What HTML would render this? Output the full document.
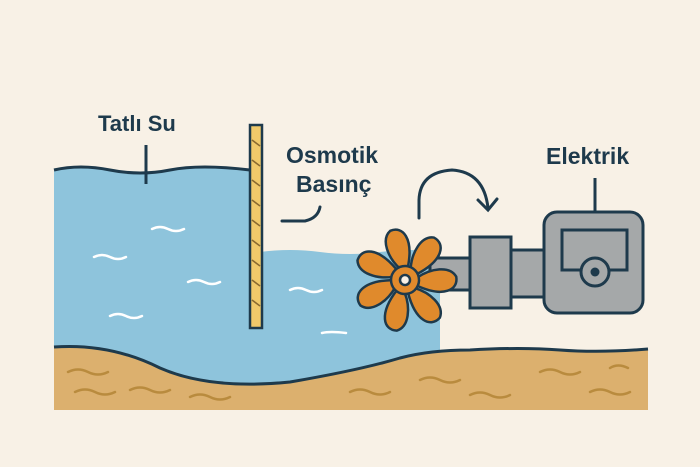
<!DOCTYPE html>
<html><head><meta charset="utf-8"><style>
html,body{margin:0;padding:0;background:#f8f1e6;}
svg{display:block}
text{font-family:"Liberation Sans",sans-serif;font-weight:bold;fill:#1e3a4c}
</style></head><body>
<svg width="700" height="467" viewBox="0 0 700 467">
<rect width="700" height="467" fill="#f8f1e6"/>
<!-- water -->
<path d="M54 170 Q80 164 110 170 T170 170 T250 170 L263 170 L263 400 L54 400 Z" fill="#8ec4dc"/>
<path d="M260 252 Q290 248 320 252 T380 252 T440 252 L440 400 L260 400 Z" fill="#8ec4dc"/>
<path d="M54 170 Q80 164 110 170 T170 170 T250 170" fill="none" stroke="#1e3a4c" stroke-width="3"/>
<!-- ground -->
<path d="M54 347 Q110 343 160 368 Q210 390 290 382 Q360 370 400 358 Q430 350 470 350 Q520 347 560 350 T648 349 L648 410 L54 410 Z" fill="#dcb06e"/>
<path d="M54 347 Q110 343 160 368 Q210 390 290 382 Q360 370 400 358 Q430 350 470 350 Q520 347 560 350 T648 349" fill="none" stroke="#1e3a4c" stroke-width="3"/>
<g fill="none" stroke="#b98b3e" stroke-width="2.5" stroke-linecap="round">
<path d="M68 372 q10 -5 20 0 t20 0"/><path d="M75 392 q10 -5 20 0 t20 0"/><path d="M130 390 q10 -5 20 0 t20 0"/>
<path d="M190 397 q10 -5 20 0 t20 0"/><path d="M350 392 q10 -5 20 0 t20 0"/><path d="M420 380 q10 -5 20 0 t20 0"/>
<path d="M470 395 q10 -5 20 0 t20 0"/><path d="M540 372 q10 -5 20 0 t20 0"/><path d="M590 392 q10 -5 20 0 t20 0"/>
<path d="M610 368 q8 -5 18 0"/>
</g>
<!-- white wave marks -->
<g fill="none" stroke="#fff" stroke-width="2.5" stroke-linecap="round">
<path d="M152 229 q8 -4 16 0 t16 0"/><path d="M94 257 q8 -4 16 0 t16 0"/><path d="M188 282 q8 -4 16 0 t16 0"/>
<path d="M110 316 q8 -4 16 0 t16 0"/><path d="M290 290 q8 -4 16 0 t16 0"/><path d="M322 333 q8 -2 24 0"/>
</g>
<!-- membrane -->
<rect x="250" y="125" width="12" height="203" fill="#f0c96a" stroke="#1e3a4c" stroke-width="2.5"/>
<g stroke="#8a6a30" stroke-width="1.5"><path d="M252 140l8 6M252 160l8 6M252 180l8 6M252 200l8 6M252 220l8 6M252 240l8 6M252 260l8 6M252 280l8 6M252 300l8 6"/></g>
<!-- labels -->
<text x="98" y="131" font-size="22">Tatlı Su</text>
<line x1="146" y1="145" x2="146" y2="184" stroke="#1e3a4c" stroke-width="3"/>
<text x="286" y="163" font-size="23">Osmotik</text>
<text x="296" y="192" font-size="23">Basınç</text>
<path d="M282 221 L305 221 Q318 218 320 207" fill="none" stroke="#1e3a4c" stroke-width="3" stroke-linecap="round"/>
<text x="546" y="164" font-size="23">Elektrik</text>
<line x1="595" y1="178" x2="595" y2="212" stroke="#1e3a4c" stroke-width="3"/>
<!-- arrow arc -->
<path d="M419 218 L419 200 Q420 172 452 170 Q484 172 488 208" fill="none" stroke="#1e3a4c" stroke-width="3" stroke-linecap="round"/>
<path d="M478 200 L488 210 L497 199" fill="none" stroke="#1e3a4c" stroke-width="3" stroke-linecap="round"/>
<!-- shafts / motor -->
<rect x="430" y="258" width="42" height="32" fill="#a5a8a9" stroke="#1e3a4c" stroke-width="3"/>
<rect x="509" y="250" width="38" height="47" fill="#a5a8a9" stroke="#1e3a4c" stroke-width="3"/>
<rect x="470" y="237" width="41" height="71" fill="#a5a8a9" stroke="#1e3a4c" stroke-width="3"/>
<rect x="544" y="212" width="99" height="101" rx="13" fill="#a5a8a9" stroke="#1e3a4c" stroke-width="3"/>
<rect x="562" y="230" width="65" height="40" fill="none" stroke="#1e3a4c" stroke-width="3"/>
<circle cx="595" cy="272" r="14" fill="#a5a8a9" stroke="#1e3a4c" stroke-width="3"/>
<circle cx="595" cy="272" r="4.5" fill="#1e3a4c"/>
<!-- propeller -->
<g transform="translate(405,280) rotate(-10)" fill="#e08a2c" stroke="#1e3a4c" stroke-width="2.5" stroke-linejoin="round">
<g id="b"><path d="M-3 -12 C-13 -25 -17 -44 -6 -51 C7 -54 16 -40 5 -12 Z"/></g>
<use href="#b" transform="rotate(51)"/><use href="#b" transform="rotate(103)"/><use href="#b" transform="rotate(154)"/>
<use href="#b" transform="rotate(206)"/><use href="#b" transform="rotate(257)"/><use href="#b" transform="rotate(309)"/>
<circle r="14"/><circle r="5" fill="#f8f1e6"/>
</g>
</svg>
</body></html>
